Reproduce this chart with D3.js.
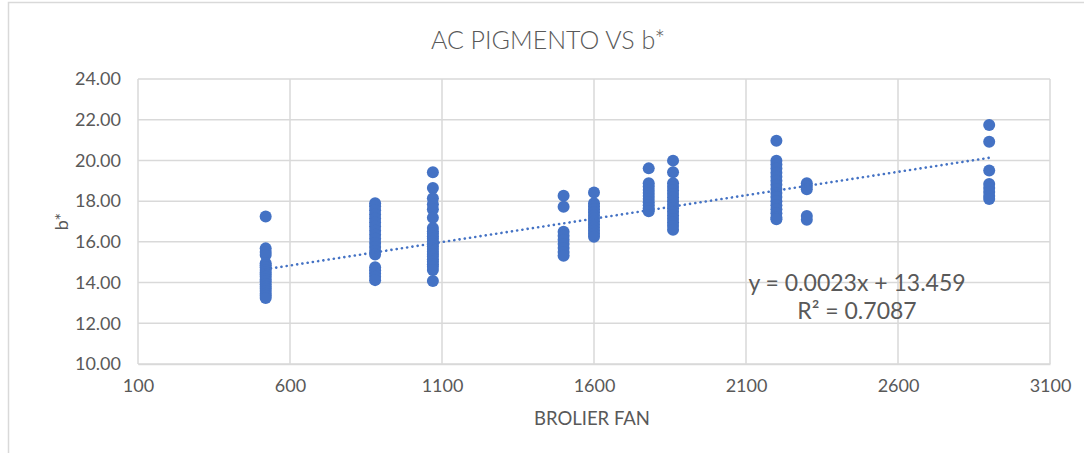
<!DOCTYPE html>
<html>
<head>
<meta charset="utf-8">
<script src="https://cdn.jsdelivr.net/npm/d3@7"></script>
<style>
  body { margin: 0; background: #fff; }
  svg { display: block; font-family: Lato, "Open Sans", sans-serif; }
</style>
</head>
<body>
<div id="chart"></div>
<script>
const W = 1084, H = 453;

// x positions (BROLIER FAN) of each column of points
const fanValues = [520, 880, 1070, 1500, 1600, 1780, 1860, 2200, 2300, 2900];

// b* readings for each column, same order as fanValues
const bStar520  = [17.24, 15.68, 15.50, 15.35, 14.95, 14.85, 14.75, 14.62, 14.50, 14.40, 14.28, 14.15, 14.05, 13.92, 13.80, 13.70, 13.58, 13.45, 13.35, 13.24];
const bStar880  = [17.90, 17.75, 17.55, 17.35, 17.15, 16.95, 16.75, 16.55, 16.35, 16.15, 15.95, 15.75, 15.55, 15.38, 14.75, 14.60, 14.45, 14.28, 14.12];
const bStar1070 = [19.42, 18.64, 18.14, 17.85, 17.60, 17.18, 16.68, 16.52, 16.40, 16.28, 16.15, 16.02, 15.90, 15.78, 15.65, 15.52, 15.40, 15.28, 15.15, 15.02, 14.90, 14.78, 14.62, 14.08];
const bStar1500 = [18.27, 17.72, 16.50, 16.30, 16.10, 15.90, 15.70, 15.50, 15.32];
const bStar1600 = [18.42, 17.90, 17.75, 17.60, 17.45, 17.30, 17.15, 17.00, 16.85, 16.70, 16.55, 16.40, 16.25];
const bStar1780 = [19.61, 18.88, 18.72, 18.55, 18.40, 18.25, 18.10, 17.95, 17.80, 17.65, 17.50];
const bStar1860 = [19.99, 19.42, 18.88, 18.70, 18.52, 18.35, 18.18, 18.00, 17.82, 17.65, 17.48, 17.30, 17.12, 16.95, 16.78, 16.60];
const bStar2200 = [20.97, 19.99, 19.80, 19.60, 19.40, 19.20, 19.00, 18.80, 18.60, 18.40, 18.20, 18.00, 17.80, 17.60, 17.40, 17.20, 17.11];
const bStar2300 = [18.88, 18.75, 18.58, 17.27, 17.08];
const bStar2900 = [21.74, 20.92, 19.50, 18.84, 18.65, 18.45, 18.25, 18.10];

const bStarColumns = [bStar520, bStar880, bStar1070, bStar1500, bStar1600, bStar1780, bStar1860, bStar2200, bStar2300, bStar2900];

const xTicks = [100, 600, 1100, 1600, 2100, 2600, 3100];
const yTicks = [10, 12, 14, 16, 18, 20, 22, 24];

// linear trend shown in the chart
const trendSlope = 0.0023;
const trendIntercept = 13.459;
const trendLabel = ["y = 0.0023x + 13.459", "R² = 0.7087"];

const BLUE = "#4472c4";
const GRID = "#d9d9d9";
const TEXT = "#595959";

var margin = {top: 79, right: 34, bottom: 89, left: 138},
    width = W - margin.left - margin.right,
    height = H - margin.top - margin.bottom;

var svg = d3.select("#chart").append("svg")
    .attr("width", W)
    .attr("height", H);

// chart frame (only top and left edges are visible)
svg.append("rect")
    .attr("x", 8.5).attr("y", 2.5)
    .attr("width", W + 20).attr("height", H + 20)
    .attr("fill", "none")
    .attr("stroke", GRID)
    .attr("stroke-width", 1.5);

var x = d3.scaleLinear().domain([100, 3100]).range([0, width]);
var y = d3.scaleLinear().domain([10, 24]).range([height, 0]);

var g = svg.append("g")
    .attr("transform", "translate(" + margin.left + "," + margin.top + ")");

// gridlines
g.append("g")
    .selectAll("line")
    .data(yTicks)
    .enter().append("line")
    .attr("x1", 0).attr("x2", width)
    .attr("y1", d => y(d)).attr("y2", d => y(d))
    .attr("stroke", GRID).attr("stroke-width", 1.5);

g.append("g")
    .selectAll("line")
    .data(xTicks)
    .enter().append("line")
    .attr("x1", d => x(d)).attr("x2", d => x(d))
    .attr("y1", 0).attr("y2", height)
    .attr("stroke", GRID).attr("stroke-width", 1.5);

// axes (labels only)
var xAxis = g.append("g")
    .attr("transform", "translate(0," + height + ")")
    .call(d3.axisBottom(x).tickValues(xTicks).tickSize(0).tickPadding(15).tickFormat(d3.format("d")));
xAxis.select(".domain").attr("stroke", GRID).attr("stroke-width", 1.5);
xAxis.selectAll("text").attr("fill", TEXT).style("font-size", "18px").style("font-family", "Lato");

var yAxis = g.append("g")
    .call(d3.axisLeft(y).tickValues(yTicks).tickSize(0).tickPadding(17).tickFormat(d3.format(".2f")));
yAxis.select(".domain").remove();
yAxis.selectAll("text").attr("fill", TEXT).style("font-size", "18px").style("font-family", "Lato");

// points
var points = [];
fanValues.forEach(function(fx, i) {
    bStarColumns[i].forEach(function(b) { points.push({fan: fx, b: b}); });
});

g.append("g")
    .selectAll("circle")
    .data(points)
    .enter().append("circle")
    .attr("cx", d => x(d.fan))
    .attr("cy", d => y(d.b))
    .attr("r", 6)
    .attr("fill", BLUE);

// dotted trendline
var xMin = d3.min(fanValues), xMax = d3.max(fanValues);
g.append("line")
    .attr("x1", x(xMin)).attr("y1", y(trendSlope * xMin + trendIntercept))
    .attr("x2", x(xMax)).attr("y2", y(trendSlope * xMax + trendIntercept))
    .attr("stroke", "#4472c4")
    .attr("stroke-width", 2.6)
    .attr("stroke-linecap", "round")
    .attr("stroke-dasharray", "0.1 5.2");

// equation label
var eq = svg.append("text")
    .attr("text-anchor", "middle")
    .attr("fill", TEXT)
    .style("font-size", "23px");
eq.append("tspan").attr("x", 857).attr("y", 291).text(trendLabel[0]);
eq.append("tspan").attr("x", 857).attr("y", 319).text(trendLabel[1]);

// title
svg.append("text")
    .attr("x", 548).attr("y", 49)
    .attr("text-anchor", "middle")
    .attr("fill", TEXT)
    .style("font-size", "25px")
    .style("font-weight", 300)
    .text("AC PIGMENTO VS b*");

// axis titles
svg.append("text")
    .attr("x", 592).attr("y", 425)
    .attr("text-anchor", "middle")
    .attr("fill", TEXT)
    .style("font-size", "18.5px")
    .text("BROLIER FAN");

svg.append("text")
    .attr("transform", "translate(68," + (margin.top + height / 2) + ") rotate(-90)")
    .attr("text-anchor", "middle")
    .attr("fill", TEXT)
    .style("font-size", "18px")
    .text("b*");
</script>
</body>
</html>
